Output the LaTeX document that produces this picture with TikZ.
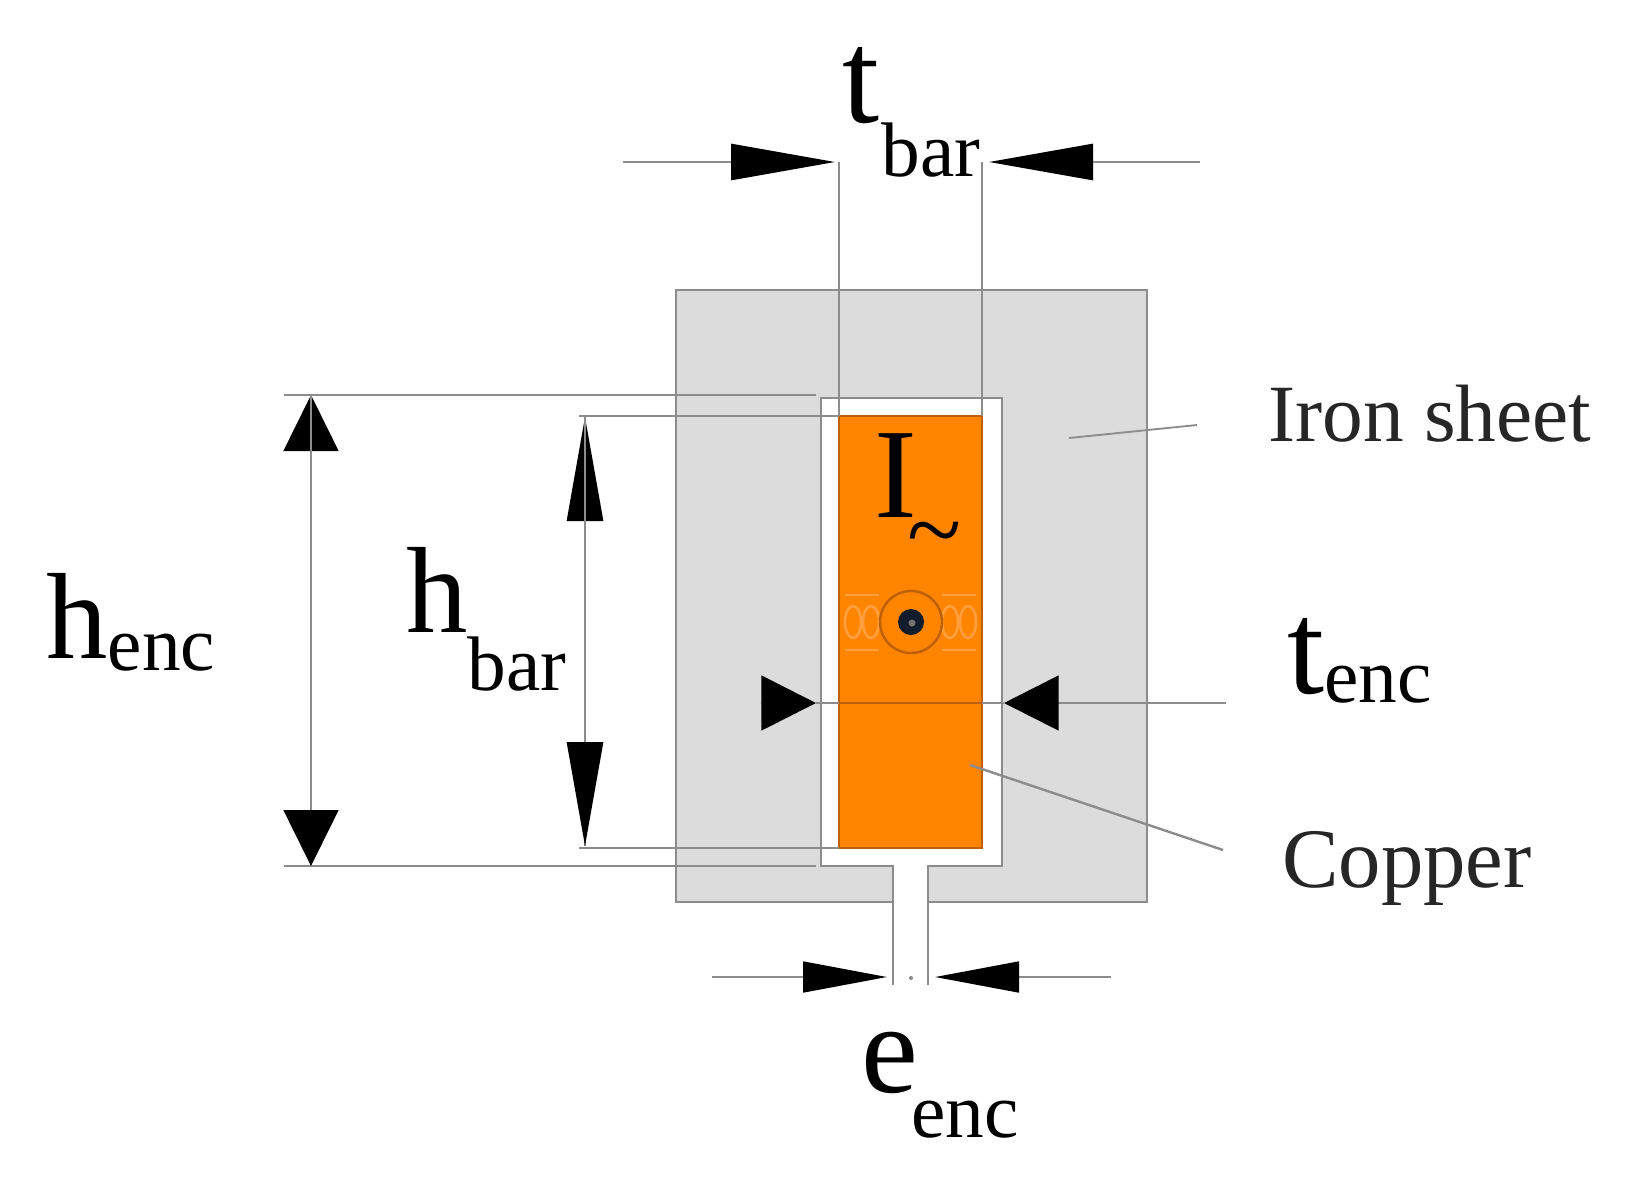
\documentclass[tikz,border=0pt]{standalone}
\usepackage{fontspec}
\setmainfont{Liberation Serif}
\usetikzlibrary{arrows.meta}

\definecolor{ironfill}{RGB}{220,220,220}
\definecolor{copperfill}{RGB}{255,133,0}
\definecolor{copperedge}{RGB}{190,95,10}
\definecolor{dimgray}{RGB}{140,140,140}
\definecolor{weave}{RGB}{255,158,60}
\definecolor{wirecore}{RGB}{18,28,42}

\newcommand{\sublabel}[4]{#1\kern#4\raisebox{-#3}{\fontsize{58}{58}\selectfont #2}}

\tikzset{every picture/.style={line width=2.1pt},
  dimline/.style={draw=dimgray},
  dimtip/.style 2 args={draw=dimgray,-{Triangle[length=#1,width=#2,black]}},
  biglabel/.style={anchor=base west,inner sep=0pt,font=\fontsize{#1}{#1}\selectfont},
  notelabel/.style={anchor=base west,inner sep=0pt,font=\fontsize{#1}{#1}\selectfont,text=black!85}}

\begin{document}
\begin{tikzpicture}[x=0.75pt,y=0.75pt,yscale=-1,xscale=1]
\useasboundingbox (0,0) rectangle (1637,1189);

%Iron sheet
\draw [draw=dimgray,fill=ironfill] (676,290) rectangle (1147,902);
%Slot
\fill [white] (893,985) -- (893,866) -- (821,866) -- (821,398) -- (1002,398) -- (1002,866) -- (928,866) -- (928,985) -- cycle;
\draw [dimline] (893,985) -- (893,866) -- (821,866) -- (821,398) -- (1002,398) -- (1002,866) -- (928,866) -- (928,985);
\fill [dimgray] (911,978) circle (2);
%Copper bar
\draw [draw=copperedge,fill=copperfill,line width=1.8pt] (839,416) rectangle (982,848);

%Weave marks and wire
\foreach \xx in {845,942}{
  \draw [weave,line width=2pt] (\xx,595) -- ++(34,0);
  \draw [weave,line width=2pt] (\xx,650) -- ++(34,0);
  \draw [weave,line width=2pt] (\xx+8,622) ellipse (8 and 16);
  \draw [weave,line width=2pt] (\xx+26,622) ellipse (8 and 16);
}
\draw [copperedge,line width=1.8pt] (911,622) circle (31);
\fill [wirecore] (911,622) circle (13);
\fill [black!55] (912,623) circle (3.5);

%Named points
\coordinate (tbarL) at (839,162);
\coordinate (tbarR) at (982,162);
\coordinate (tbarLin) at (623,162);
\coordinate (tbarLtip) at (835,162);
\coordinate (tbarRin) at (1200,162);
\coordinate (tbarRtip) at (989,162);
\coordinate (hencT) at (311,395);
\coordinate (hencB) at (311,866);
\coordinate (hbarT) at (585,417);
\coordinate (hbarB) at (585,846);
\coordinate (tencIn) at (761,703);
\coordinate (tencL) at (816,703);
\coordinate (tencR) at (1004,703);
\coordinate (tencOut) at (1226,703);
\coordinate (eencLin) at (712,977);
\coordinate (eencLtip) at (887,977);
\coordinate (eencRin) at (1111,977);
\coordinate (eencRtip) at (935,977);
\coordinate (ironA) at (1069,438);
\coordinate (ironB) at (1197,425);
\coordinate (copperA) at (970,765);
\coordinate (copperB) at (1223,850);

%Extension lines
\draw [dimline] (tbarL) -- (839,416);
\draw [dimline] (tbarR) -- (982,416);
\draw [dimline] (284,395) -- (816,395);
\draw [dimline] (284,866) -- (816,866);
\draw [dimline] (579,416) -- (839,416);
\draw [dimline] (579,848) -- (839,848);

%Dimension arrows
\draw [dimtip={78pt}{27pt}] (tbarLin) -- (tbarLtip);
\draw [dimtip={78pt}{27pt}] (tbarRin) -- (tbarRtip);
\draw [dimtip={42pt}{41pt}] (hencB) -- (hencT);
\draw [dimtip={42pt}{41pt}] (hencT) -- (hencB);
\draw [dimtip={78pt}{27pt}] (hbarB) -- (hbarT);
\draw [dimtip={78pt}{27pt}] (hbarT) -- (hbarB);
\draw [dimtip={41pt}{41pt}] (tencIn) -- (tencL);
\draw [dimline] (tencL) -- (tencR);
\draw [dimtip={41pt}{41pt}] (tencOut) -- (tencR);
\draw [copperedge] (839,703) -- (982,703);
\draw [dimtip={63pt}{23pt}] (eencLin) -- (eencLtip);
\draw [dimtip={63pt}{23pt}] (eencRin) -- (eencRtip);

%Leaders
\draw [dimline,line width=1.4pt] (ironA) -- (ironB);
\draw [dimline,line width=1.8pt] (copperA) -- (copperB);

% Text Node
\draw (45,658) node (henc) [biglabel=92] {\sublabel{h}{enc}{9pt}{0pt}};
% Text Node
\draw (405,632) node (hbar) [biglabel=92] {\sublabel{h}{bar}{44pt}{0pt}};
% Text Node
\draw (841,122) node (tbar) [biglabel=100] {\sublabel{t}{bar}{41pt}{1.5pt}};
% Text Node
\draw (1286,693) node (tenc) [biglabel=100] {\sublabel{t}{enc}{7pt}{0pt}};
% Text Node
\draw (860,1092) node (eenc) [biglabel=96] {\sublabel{e}{enc}{34pt}{-5pt}};
% Text Node
\draw (873,517) node (curr) [biglabel=96] {I\kern-7pt\raisebox{-34.5pt}{\fontsize{75}{75}\selectfont\char`\~}};
% Text Node
\draw (1267,441) node (iron) [notelabel=61] {Iron sheet};
% Text Node
\draw (1281,887) node (copper) [notelabel=63.5] {Copper};

\end{tikzpicture}
\end{document}
